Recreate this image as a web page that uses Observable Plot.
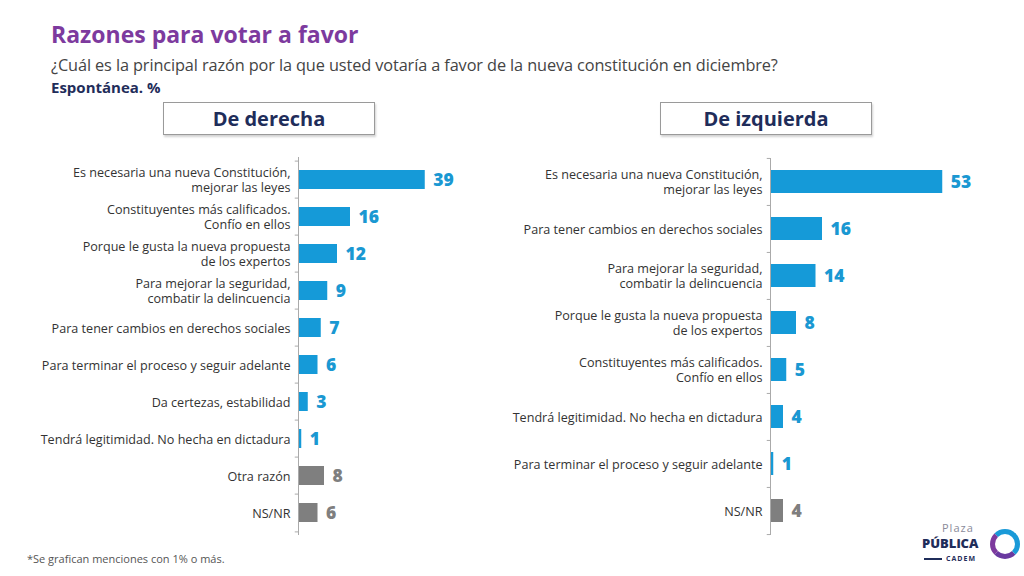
<!DOCTYPE html>
<html>
<head>
<meta charset="utf-8">
<script src="https://cdn.jsdelivr.net/npm/d3@7"></script>
<script src="https://cdn.jsdelivr.net/npm/@observablehq/plot@0.6"></script>
<style>
  body { margin: 0; background: #fff; font-family: "Open Sans", sans-serif; }
  #page { position: relative; width: 1024px; height: 576px; overflow: hidden; }
  .abs { position: absolute; line-height: 1; }
  #title { left: 51px; top: 23px; font-size: 23px; font-weight: 700; color: #7d3a9e; }
  #sub { left: 51px; top: 57px; font-size: 16.3px; color: #444; letter-spacing: -0.1px; }
  #esp { left: 51px; top: 80px; font-size: 15px; font-weight: 700; color: #1f2d5a; }
  .box { top: 102px; width: 210px; height: 31px; border: 1px solid #9a9a9a; box-shadow: 1px 2px 2px rgba(0,0,0,0.18);
         text-align: center; line-height: 31px; font-size: 20px; font-weight: 700; color: #1f2d5a; }
  #foot { left: 27px; top: 553px; font-size: 11px; color: #555; }
  #logo { left: 922px; top: 522px; width: 100px; height: 44px; }
  svg { overflow: visible; }
</style>
</head>
<body>
<div id="page">
  <div id="title" class="abs">Razones para votar a favor</div>
  <div id="sub" class="abs">¿Cuál es la principal razón por la que usted votaría a favor de la nueva constitución en diciembre?</div>
  <div id="esp" class="abs">Espontánea. %</div>
  <div class="abs box" style="left:163px">De derecha</div>
  <div class="abs box" style="left:660px">De izquierda</div>
  <div id="left" class="abs" style="left:0; top:157px"></div>
  <div id="right" class="abs" style="left:472px; top:158px"></div>
  <div id="foot" class="abs">*Se grafican menciones con 1% o más.</div>
  <div id="logo" class="abs">
    <div class="abs" style="left:20px; top:0; font-size:11px; color:#8a8a9a; letter-spacing:1px">Plaza</div>
    <div class="abs" style="left:0; top:15px; font-size:13px; font-weight:800; color:#1f2d5a">PÚBLiCA</div>
    <div class="abs" style="left:2px; top:36px; width:18px; border-top:2px solid #1f2d5a"></div>
    <div class="abs" style="left:24px; top:33px; font-size:7px; font-weight:700; color:#1f2d5a; letter-spacing:1px">CADEM</div>
    <div class="abs" style="left:68px; top:7px; width:20px; height:20px; border-radius:50%; border:5px solid #1a9ad8; border-left-color:#7d3a9e; border-bottom-color:#6a3aa0"></div>
  </div>
</div>
<script>
// De derecha
const labelsDerecha = [
  "Es necesaria una nueva Constitución,\nmejorar las leyes",
  "Constituyentes más calificados.\nConfío en ellos",
  "Porque le gusta la nueva propuesta\nde los expertos",
  "Para mejorar la seguridad,\ncombatir la delincuencia",
  "Para tener cambios en derechos sociales",
  "Para terminar el proceso y seguir adelante",
  "Da certezas, estabilidad",
  "Tendrá legitimidad. No hecha en dictadura",
  "Otra razón",
  "NS/NR"
];
const valuesDerecha = [39, 16, 12, 9, 7, 6, 3, 1, 8, 6];

// De izquierda
const labelsIzquierda = [
  "Es necesaria una nueva Constitución,\nmejorar las leyes",
  "Para tener cambios en derechos sociales",
  "Para mejorar la seguridad,\ncombatir la delincuencia",
  "Porque le gusta la nueva propuesta\nde los expertos",
  "Constituyentes más calificados.\nConfío en ellos",
  "Tendrá legitimidad. No hecha en dictadura",
  "Para terminar el proceso y seguir adelante",
  "NS/NR"
];
const valuesIzquierda = [53, 16, 14, 8, 5, 4, 1, 4];

const grises = ["Otra razón", "NS/NR"];
const azul = "#159ad8", gris = "#7f7f7f";

// tickY on a band scale spans the band, so the small boundary ticks are ruleY
function panel(labels, values, width, height, marginRight, padIn) {
  const data = labels.map((l, i) => ({label: l, value: values[i], otro: grises.includes(l)}));
  const step = height / labels.length;
  return Plot.plot({
    width: width,
    height: height,
    marginLeft: 298,
    marginRight: marginRight,
    marginTop: 0,
    marginBottom: 0,
    style: {fontFamily: "Open Sans, sans-serif", overflow: "visible"},
    x: {domain: [0, 60], axis: null},
    y: {domain: labels, axis: null, paddingInner: padIn, paddingOuter: padIn / 2},
    marks: [
      Plot.barX(data, {x: 'value', y: 'label', fill: d => d.otro ? gris : azul}),
      Plot.ruleX([0], {stroke: '#aaa', strokeWidth: 1}),
      Plot.ruleY(data, {y: 'label', x1: -1, x2: 0, dy: -step / 2, stroke: '#aaa'}),
      Plot.ruleY(data.slice(-1), {y: 'label', x1: -1, x2: 0, dy: step / 2, stroke: '#aaa'}),
      Plot.text(data, {
        x: 0, y: 'label', text: 'label', dx: -8, textAnchor: 'end',
        fontSize: 12.6, fill: '#333', lineHeight: 1.2
      }),
      Plot.text(data, {
        x: 'value', y: 'label', text: d => String(d.value), dx: 8, textAnchor: 'start',
        fontSize: 17.5, fontWeight: 800, fill: d => d.otro ? gris : '#1a98d2'
      })
    ]
  });
}

d3.select('#left').append(() => panel(labelsDerecha, valuesDerecha, 500, 378, 7, 0.5));
d3.select('#right').append(() => panel(labelsIzquierda, valuesIzquierda, 552, 377, 59, 0.51));
</script>
</body>
</html>
